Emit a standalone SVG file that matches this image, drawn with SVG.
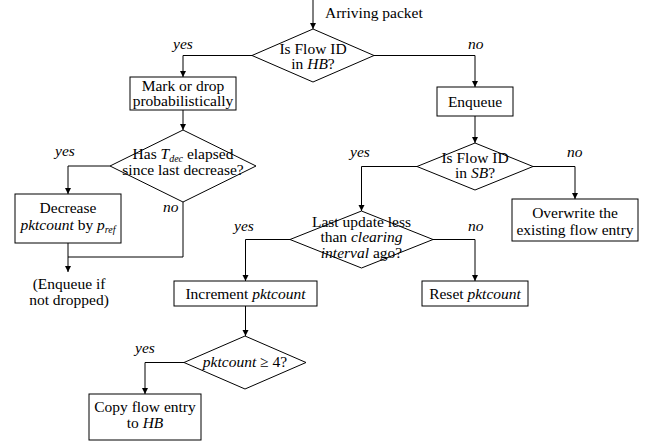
<svg xmlns="http://www.w3.org/2000/svg" width="651" height="442" viewBox="0 0 651 442">
<style>
text{font-family:"Liberation Serif","Times New Roman",serif;font-size:15.5px;fill:#000}
.c{text-anchor:middle}
.i{font-style:italic}
.s{font-size:10px;font-style:italic}
.box,.dia{fill:#fff;stroke:#000;stroke-width:1}
.ln{fill:none;stroke:#000;stroke-width:1}
</style>
<defs>
<marker id="ah" viewBox="0 0 10 10" refX="10" refY="5" markerWidth="6" markerHeight="8" markerUnits="userSpaceOnUse" orient="auto">
<path d="M0,0 L10,5 L0,10 z" fill="#000"/>
</marker>
</defs>
<rect width="651" height="442" fill="#fff"/>
<g id="connectors">
<path class="ln" d="M313,0 V29" marker-end="url(#ah)"/>
<path class="ln" d="M252,55.5 H183 V77" marker-end="url(#ah)"/>
<path class="ln" d="M374,55.5 H475 V87" marker-end="url(#ah)"/>
<path class="ln" d="M183,110 V130" marker-end="url(#ah)"/>
<path class="ln" d="M110,166 H68 V194" marker-end="url(#ah)"/>
<path class="ln" d="M183,202 V257 H68"/>
<path class="ln" d="M68,243 V272" marker-end="url(#ah)"/>
<path class="ln" d="M475,116 V143" marker-end="url(#ah)"/>
<path class="ln" d="M417,166.5 H361.5 V211" marker-end="url(#ah)"/>
<path class="ln" d="M533,166.5 H575 V199" marker-end="url(#ah)"/>
<path class="ln" d="M290,239.5 H245.5 V281" marker-end="url(#ah)"/>
<path class="ln" d="M433,239.5 H475 V281" marker-end="url(#ah)"/>
<path class="ln" d="M245.5,306 V336" marker-end="url(#ah)"/>
<path class="ln" d="M184,362.5 H145 V394" marker-end="url(#ah)"/>
<text x="325" y="18">Arriving packet</text>
<text class="i" x="173" y="49">yes</text>
<text class="i" x="468" y="49">no</text>
<text class="i" x="55" y="156">yes</text>
<text class="i" x="163" y="212">no</text>
<text class="i" x="350" y="157">yes</text>
<text class="i" x="567" y="157">no</text>
<text class="i" x="234" y="231">yes</text>
<text class="i" x="468" y="231">no</text>
<text class="i" x="135" y="353">yes</text>
<text class="c" x="69" y="289">(Enqueue if</text>
<text class="c" x="69" y="305">not dropped)</text>
</g>
<g id="d1">
<polygon class="dia" points="313,29 374,55.5 313,82 252,55.5"/>
<text class="c" x="313" y="54">Is Flow ID</text>
<text class="c" x="313" y="69">in <tspan class="i">HB</tspan>?</text>
</g>
<g id="mark">
<rect class="box" x="130" y="77" width="106" height="33"/>
<text class="c" x="183" y="91">Mark or drop</text>
<text class="c" x="183" y="106">probabilistically</text>
</g>
<g id="enqueue">
<rect class="box" x="437" y="87" width="76" height="29"/>
<text class="c" x="475" y="107">Enqueue</text>
</g>
<g id="d5">
<polygon class="dia" points="183,130 256,166 183,202 110,166"/>
<text class="c" x="183" y="159">Has <tspan class="i">T</tspan><tspan class="s" dy="3">dec</tspan><tspan dy="-3"> elapsed</tspan></text>
<text class="c" x="183" y="175">since last decrease?</text>
</g>
<g id="decrease">
<rect class="box" x="15" y="194" width="106" height="49"/>
<text class="c" x="68" y="213">Decrease</text>
<text class="c" x="68" y="230"><tspan class="i">pktcount</tspan> by <tspan class="i">p</tspan><tspan class="s" dy="3">ref</tspan></text>
</g>
<g id="d2">
<polygon class="dia" points="475,143 533,166.5 475,190 417,166.5"/>
<text class="c" x="475" y="163">Is Flow ID</text>
<text class="c" x="475" y="178">in <tspan class="i">SB</tspan>?</text>
</g>
<g id="overwrite">
<rect class="box" x="512" y="199" width="126" height="42"/>
<text class="c" x="575" y="218">Overwrite the</text>
<text class="c" x="575" y="235">existing flow entry</text>
</g>
<g id="d3">
<polygon class="dia" points="361.5,211 433,239.5 361.5,268 290,239.5"/>
<text class="c" x="361.5" y="227">Last update less</text>
<text class="c" x="361.5" y="242">than <tspan class="i">clearing</tspan></text>
<text class="c" x="361.5" y="258"><tspan class="i">interval</tspan> ago?</text>
</g>
<g id="increment">
<rect class="box" x="174" y="281" width="143" height="25"/>
<text class="c" x="245.5" y="299">Increment <tspan class="i">pktcount</tspan></text>
</g>
<g id="reset">
<rect class="box" x="422" y="281" width="106" height="25"/>
<text class="c" x="475" y="299">Reset <tspan class="i">pktcount</tspan></text>
</g>
<g id="d4">
<polygon class="dia" points="245,336 306,362.5 245,389 184,362.5"/>
<text class="c" x="245" y="367"><tspan class="i">pktcount</tspan> ≥ 4?</text>
</g>
<g id="copy">
<rect class="box" x="89" y="394" width="112" height="46"/>
<text class="c" x="145" y="412">Copy flow entry</text>
<text class="c" x="145" y="428">to <tspan class="i">HB</tspan></text>
</g>
</svg>
